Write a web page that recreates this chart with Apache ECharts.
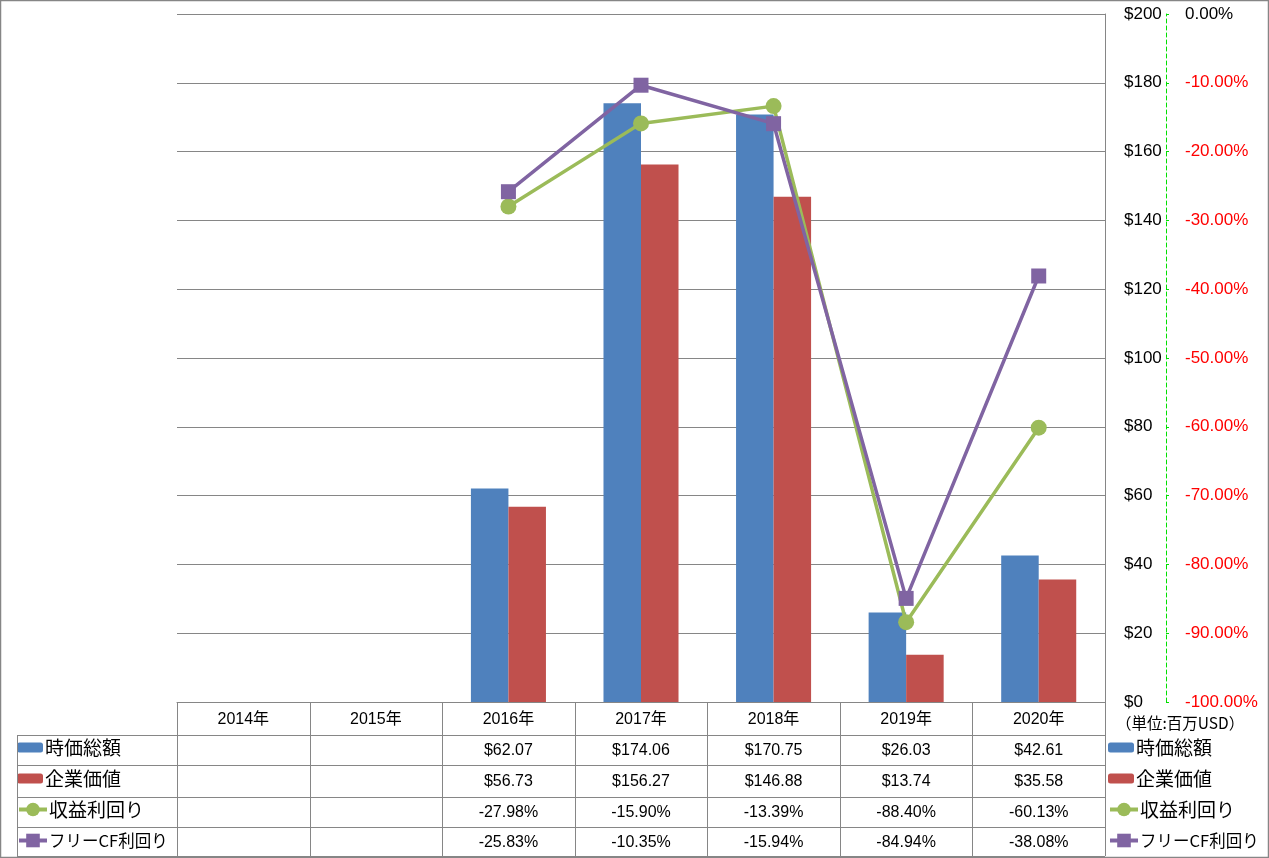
<!DOCTYPE html>
<html><head><meta charset="utf-8">
<script src="https://cdn.jsdelivr.net/npm/echarts@6/dist/echarts.min.js"></script>
<style>html,body{margin:0;padding:0;background:#fff}#c{width:1269px;height:858px}</style>
</head><body><div id="c"></div>
<script>
const years = ['2014年','2015年','2016年','2017年','2018年','2019年','2020年'];
const marketCap = [null,null,62.07,174.06,170.75,26.03,42.61];
const enterpriseValue = [null,null,56.73,156.27,146.88,13.74,35.58];
const earningsYield = [null,null,-27.98,-15.90,-13.39,-88.40,-60.13];
const fcfYield = [null,null,-25.83,-10.35,-15.94,-84.94,-38.08];
const seriesNames = ['時価総額','企業価値','収益利回り','フリーCF利回り'];
const unitNote = '（単位:百万USD）';

const C_BLUE = '#4F81BD', C_RED = '#C0504D', C_GREEN = '#9BBB59', C_PURPLE = '#8064A2';
const GRAY = '#868686';
const NUM_FONT = '"Liberation Sans", Arial, sans-serif';
const JP_FONT = '"Noto Sans CJK JP", sans-serif';

const GRID = {left:177, right:164, top:14, bottom:156};
const ROW_TOP = [702, 735, 765, 797, 827, 856];

function legendCfg(left, top, names, h, w, gap) {
  return {
    orient:'vertical', left:left, top:top, padding:0, height:120, itemGap: gap, itemWidth:w, itemHeight:h,
    data:names, selectedMode:false, lineStyle:{width:4},
    formatter: n => (n.length > 6 ? '{s|' + n + '}' : n),
    textStyle:{fontFamily:JP_FONT, fontSize:19, lineHeight:19, color:'#000', padding:[0,0,0,-3],
      rich:{s:{fontFamily:JP_FONT, fontSize:16.5, lineHeight:19, color:'#000'}}}
  };
}

const chart = echarts.init(document.getElementById('c'), null, {renderer:'canvas'});
const option = {
  animation:false,
  backgroundColor:'#fff',
  grid:{left:GRID.left, right:GRID.right, top:GRID.top, bottom:GRID.bottom, containLabel:false},
  legend:[
    legendCfg(17, 738, [seriesNames[0], seriesNames[1]], 10, 26, 12),
    legendCfg(17, 800, [seriesNames[2], seriesNames[3]], 17, 28, 12),
    legendCfg(1108, 738, [seriesNames[0], seriesNames[1]], 10, 26, 12),
    legendCfg(1108, 800, [seriesNames[2], seriesNames[3]], 17, 28, 12)
  ],
  xAxis:{type:'category', data:years, boundaryGap:true,
    axisLine:{show:true, lineStyle:{color:GRAY, width:1}},
    axisTick:{show:false}, axisLabel:{show:false}, splitLine:{show:false}},
  yAxis:[
    {type:'value', position:'right', min:0, max:200, interval:20,
      axisLine:{show:true, lineStyle:{color:GRAY, width:1}},
      axisTick:{show:false},
      splitLine:{show:true, lineStyle:{color:GRAY, width:1}},
      axisLabel:{margin:19, align:'left', fontFamily:NUM_FONT, fontSize:17, color:'#000',
        formatter:v => '$' + v}},
    {type:'value', position:'right', offset:61, min:-100, max:0, interval:10,
      axisLine:{show:true, lineStyle:{color:'#00E000', width:1, type:[4,3]}},
      axisTick:{show:true, length:3, lineStyle:{color:'#00E000', width:1}},
      splitLine:{show:false},
      axisLabel:{margin:19, align:'left', fontFamily:NUM_FONT, fontSize:17,
        color:v => (Number(v) < 0 ? '#FF0000' : '#000'),
        formatter:v => v.toFixed(2) + '%'}}
  ],
  series:[
    {name:seriesNames[0], type:'bar', data:marketCap, barGap:'0%', barCategoryGap:'43.4%',
      itemStyle:{color:C_BLUE}},
    {name:seriesNames[1], type:'bar', data:enterpriseValue, barGap:'0%', barCategoryGap:'43.4%',
      itemStyle:{color:C_RED}},
    {name:seriesNames[2], type:'line', yAxisIndex:1, data:earningsYield, symbol:'circle', symbolSize:16,
      lineStyle:{color:C_GREEN, width:3.5}, itemStyle:{color:C_GREEN}, z:3},
    {name:seriesNames[3], type:'line', yAxisIndex:1, data:fcfYield, symbol:'rect', symbolSize:15,
      lineStyle:{color:C_PURPLE, width:3.5}, itemStyle:{color:C_PURPLE}, z:4}
  ]
};
chart.setOption(option);

// Data table built from the arrays, positioned by the category axis
const xs = years.map((_, i) => chart.convertToPixel({xAxisIndex:0}, i));
const cw = xs[1] - xs[0];
const gLeft = xs[0] - cw / 2, gRight = xs[xs.length - 1] + cw / 2;
const els = [];
const line = (x1, y1, x2, y2) => els.push({type:'line', silent:true, z:100,
  shape:{x1, y1, x2, y2}, style:{stroke:GRAY, lineWidth:1}});
// outer border
els.push({type:'rect', silent:true, z:100, shape:{x:0.5, y:0.5, width:1268, height:857},
  style:{fill:null, stroke:GRAY, lineWidth:1.5}});
// horizontal table lines
ROW_TOP.forEach((y, k) => {
  const x0 = (k === 0) ? gLeft : 17;
  line(x0, y + 0.5, gRight, y + 0.5);
});
// vertical table lines
line(17.5, ROW_TOP[1], 17.5, ROW_TOP[5]);
for (let i = 0; i <= years.length; i++) {
  const x = Math.round(gLeft + i * cw) + 0.5;
  line(x, ROW_TOP[0], x, ROW_TOP[5]);
}
const fmtMoney = v => v == null ? '' : '$' + v.toFixed(2);
const fmtPct = v => v == null ? '' : v.toFixed(2) + '%';
const rows = [
  years.map(y => y),
  marketCap.map(fmtMoney),
  enterpriseValue.map(fmtMoney),
  earningsYield.map(fmtPct),
  fcfYield.map(fmtPct)
];
rows.forEach((row, r) => {
  const yc = (ROW_TOP[r] + ROW_TOP[r + 1]) / 2 + 1;
  row.forEach((txt, i) => {
    if (!txt) return;
    els.push({type:'text', silent:true, z:100, x:xs[i], y:yc,
      style:{text:txt, fill:'#000', fontSize:16, fontFamily:r === 0 ? '"Liberation Sans", "Noto Sans CJK JP", sans-serif' : NUM_FONT,
        align:'center', verticalAlign:'middle'}});
  });
});
els.push({type:'text', silent:true, z:100, x:1116, y:723,
  style:{text:unitNote, fill:'#000', fontSize:15.5, fontFamily:JP_FONT, align:'left', verticalAlign:'middle'}});
chart.setOption({graphic:{elements:els}});
</script>
</body></html>
